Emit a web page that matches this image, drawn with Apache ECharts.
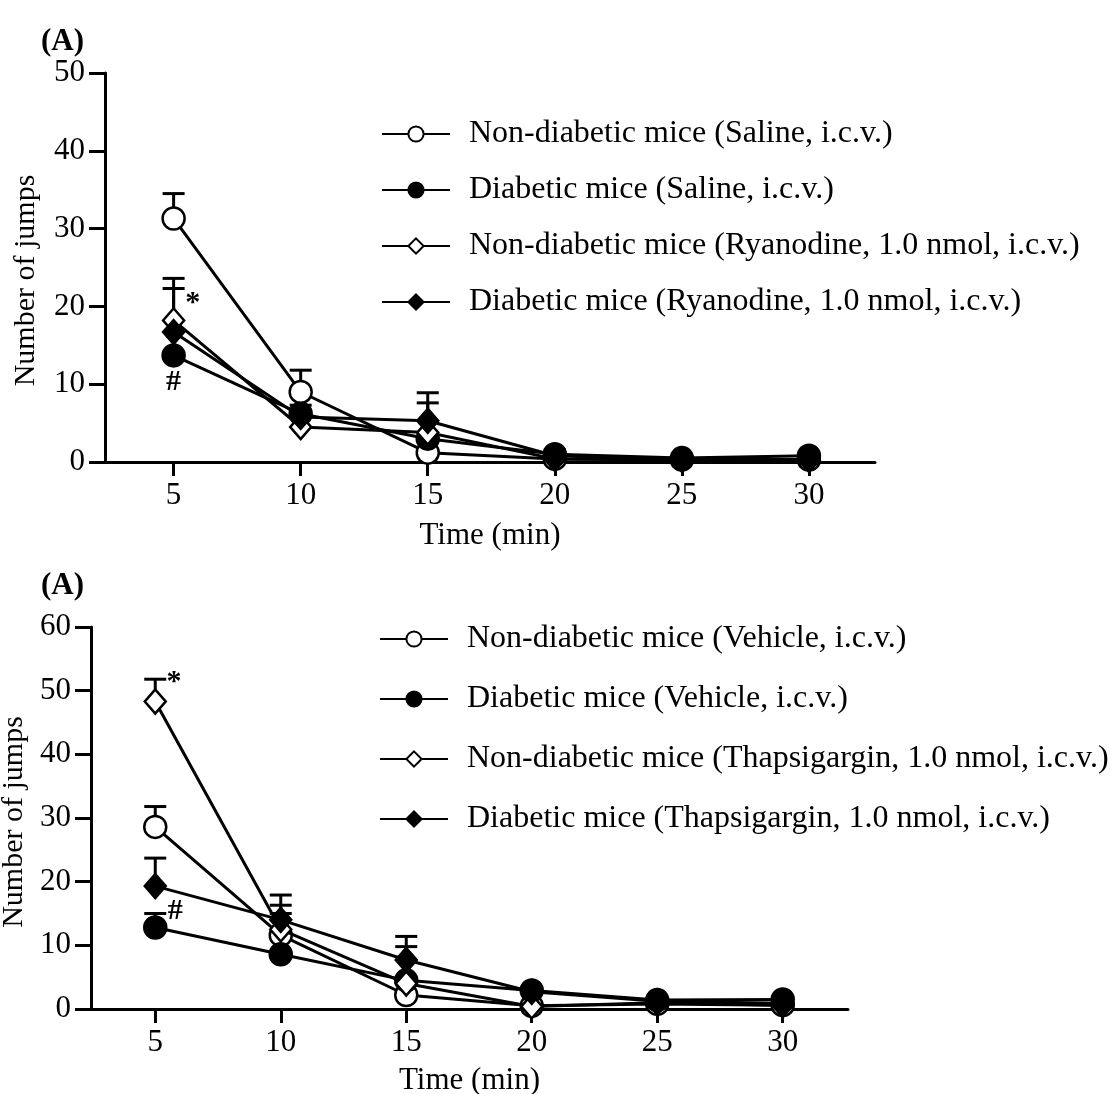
<!DOCTYPE html>
<html>
<head>
<meta charset="utf-8">
<script src="https://cdn.jsdelivr.net/npm/echarts@6/dist/echarts.min.js"></script>
<style>
  html, body { margin: 0; padding: 0; background: #fff; }
  #chart { width: 1110px; height: 1094px; }
</style>
</head>
<body>
<div id="chart"></div>
<script>
// time points (min)
const times = [5, 10, 15, 20, 25, 30]
const xTicks = [5, 10, 15, 20, 25, 30]

// panel 1 (ryanodine)
const topNames = [
  'Non-diabetic mice (Saline, i.c.v.)',
  'Diabetic mice (Saline, i.c.v.)',
  'Non-diabetic mice (Ryanodine, 1.0 nmol, i.c.v.)',
  'Diabetic mice (Ryanodine, 1.0 nmol, i.c.v.)'
]
const topNonDiabSaline = [31.3, 9.0, 1.2, 0.4, 0.3, 0.3]
const topDiabSaline = [13.7, 6.2, 3.0, 1.0, 0.5, 0.8]
const topNonDiabRyan = [18.2, 4.5, 3.8, 0.4, 0.3, 0.3]
const topDiabRyan = [16.7, 5.8, 5.3, 0.8, 0.3, 0.3]
// upper error (SEM), 0 = not visible
const topNonDiabSalineErr = [3.2, 2.8, 0, 0, 0, 0]
const topDiabSalineErr = [0, 1.1, 0, 0.6, 0, 0]
const topNonDiabRyanErr = [5.4, 0, 3.8, 0, 0, 0]
const topDiabRyanErr = [5.6, 0, 3.6, 0, 0, 0]
const topYTicks = [0, 10, 20, 30, 40, 50]

// panel 2 (thapsigargin)
const botNames = [
  'Non-diabetic mice (Vehicle, i.c.v.)',
  'Diabetic mice (Vehicle, i.c.v.)',
  'Non-diabetic mice (Thapsigargin, 1.0 nmol, i.c.v.)',
  'Diabetic mice (Thapsigargin, 1.0 nmol, i.c.v.)'
]
const botNonDiabVeh = [28.6, 11.6, 2.2, 0.5, 0.8, 0.6]
const botDiabVeh = [12.8, 8.6, 4.5, 2.9, 1.4, 1.5]
const botNonDiabThaps = [48.3, 12.5, 4.0, 0.4, 1.0, 0.6]
const botDiabThaps = [19.3, 14.0, 7.7, 2.7, 1.2, 0.9]
const botNonDiabVehErr = [3.2, 3.4, 0, 0, 0, 0]
const botDiabVehErr = [2.2, 0, 5.3, 0, 0, 0]
const botNonDiabThapsErr = [3.5, 3.8, 0, 0, 0, 0]
const botDiabThapsErr = [4.4, 3.9, 3.7, 0, 0, 0]
const botYTicks = [0, 10, 20, 30, 40, 50, 60]

// significance marks: [x, y, text]
const topMarks = [[5.75, 20.4, '*'], [5.0, 10.3, '#']]
const botMarks = [[5.75, 51.4, '*'], [5.8, 15.3, '#']]

const font = '"Liberation Serif", "Times New Roman", serif'
const symbols = ['circle', 'circle', 'diamond', 'diamond']
const fills = ['#fff', '#000', '#fff', '#000']

const chart = echarts.init(document.getElementById('chart'))

function lineSeries(names, values, idx) {
  return names.map((name, i) => ({
    name: name,
    type: 'line',
    xAxisIndex: idx,
    yAxisIndex: idx,
    data: times.map((t, j) => [t, values[i][j]]),
    symbol: symbols[i],
    symbolSize: symbols[i] === 'circle' ? 22 : [21, 24],
    showSymbol: true,
    lineStyle: { color: '#000', width: 3 },
    itemStyle: { color: fills[i], borderColor: '#000', borderWidth: 2.5 },
    z: 5 + i,
    animation: false
  }))
}

function errSeries(values, errs, idx) {
  const data = []
  values.forEach((vals, i) => {
    vals.forEach((v, j) => {
      if (errs[i][j] > 0) data.push([times[j], v, errs[i][j]])
    })
  })
  return {
    type: 'custom',
    xAxisIndex: idx,
    yAxisIndex: idx,
    data: data,
    encode: { x: 0, y: 1 },
    z: 3,
    animation: false,
    renderItem: function (params, api) {
      const base = api.coord([api.value(0), api.value(1)])
      const top = api.coord([api.value(0), api.value(1) + api.value(2)])
      const half = 11
      return {
        type: 'group',
        children: [
          { type: 'line', shape: { x1: base[0], y1: base[1], x2: top[0], y2: top[1] }, style: { stroke: '#000', lineWidth: 3 } },
          { type: 'line', shape: { x1: top[0] - half, y1: top[1], x2: top[0] + half, y2: top[1] }, style: { stroke: '#000', lineWidth: 3 } }
        ]
      }
    }
  }
}

function markSeries(marks, idx) {
  return {
    type: 'custom',
    xAxisIndex: idx,
    yAxisIndex: idx,
    data: marks,
    encode: { x: 0, y: 1 },
    z: 10,
    animation: false,
    renderItem: function (params, api) {
      const p = api.coord([api.value(0), api.value(1)])
      return {
        type: 'text',
        x: p[0],
        y: p[1],
        style: {
          text: marks[params.dataIndex][2],
          font: 'bold 30px ' + font,
          fill: '#000',
          align: 'center',
          verticalAlign: 'middle'
        }
      }
    }
  }
}

function xAxis(idx, min, max, gap) {
  return {
    type: 'value',
    gridIndex: idx,
    min: min,
    max: max,
    name: 'Time (min)',
    nameLocation: 'middle',
    nameGap: gap,
    nameTextStyle: { fontFamily: font, fontSize: 31, color: '#000' },
    axisLine: { lineStyle: { color: '#000', width: 3 } },
    axisTick: { length: 14, lineStyle: { color: '#000', width: 3 }, customValues: xTicks },
    axisLabel: { fontFamily: font, fontSize: 31, color: '#000', margin: 18, customValues: xTicks },
    splitLine: { show: false }
  }
}

function yAxis(idx, max, ticks, gap, shift) {
  return {
    type: 'value',
    gridIndex: idx,
    min: 0,
    max: max,
    interval: 10,
    name: 'Number of jumps',
    nameLocation: 'middle',
    nameGap: gap,
    nameTextStyle: { fontFamily: font, fontSize: 30, color: '#000', padding: [0, shift, 0, 0] },
    axisLine: { show: true, lineStyle: { color: '#000', width: 3 } },
    axisTick: { show: true, length: 16, lineStyle: { color: '#000', width: 3 }, customValues: ticks },
    axisLabel: { fontFamily: font, fontSize: 31, color: '#000', margin: 20, customValues: ticks },
    splitLine: { show: false }
  }
}

const option = {
  backgroundColor: '#fff',
  animation: false,
  title: [
    { text: '(A)', left: 36, top: 21, textStyle: { fontFamily: font, fontSize: 31, fontWeight: 'bold', color: '#000' } },
    { text: '(A)', left: 36, top: 565, textStyle: { fontFamily: font, fontSize: 31, fontWeight: 'bold', color: '#000' } }
  ],
  legend: [
    {
      data: topNames,
      orient: 'vertical',
      left: 376,
      top: 113,
      itemWidth: 68,
      itemHeight: 19,
      itemGap: 24,
      textStyle: { fontFamily: font, fontSize: 32, color: '#000', padding: [0, 0, 0, 14] },
      selectedMode: false
    },
    {
      data: botNames,
      orient: 'vertical',
      left: 374,
      top: 618,
      itemWidth: 68,
      itemHeight: 19,
      itemGap: 28,
      textStyle: { fontFamily: font, fontSize: 32, color: '#000', padding: [0, 0, 0, 14] },
      selectedMode: false
    }
  ],
  grid: [
    { left: 105, top: 73, width: 770, height: 389, outerBoundsMode: 'none' },
    { left: 91, top: 627, width: 757, height: 382, outerBoundsMode: 'none' }
  ],
  xAxis: [xAxis(0, 2.3, 32.6, 58), xAxis(1, 2.44, 32.6, 56)],
  yAxis: [yAxis(0, 50, topYTicks, 64, 26), yAxis(1, 60, botYTicks, 56, 8)],
  series: [
    ...lineSeries(topNames, [topNonDiabSaline, topDiabSaline, topNonDiabRyan, topDiabRyan], 0),
    errSeries([topNonDiabSaline, topDiabSaline, topNonDiabRyan, topDiabRyan],
      [topNonDiabSalineErr, topDiabSalineErr, topNonDiabRyanErr, topDiabRyanErr], 0),
    markSeries(topMarks, 0),
    ...lineSeries(botNames, [botNonDiabVeh, botDiabVeh, botNonDiabThaps, botDiabThaps], 1),
    errSeries([botNonDiabVeh, botDiabVeh, botNonDiabThaps, botDiabThaps],
      [botNonDiabVehErr, botDiabVehErr, botNonDiabThapsErr, botDiabThapsErr], 1),
    markSeries(botMarks, 1)
  ]
}

chart.setOption(option)
</script>
</body>
</html>
